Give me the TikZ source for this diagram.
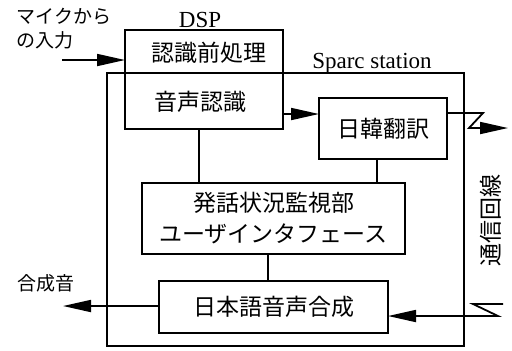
\documentclass[tikz,border=0pt]{standalone}
\usepackage{fontspec}
\setmainfont{Liberation Serif}
\newfontfamily\jp{Noto Sans CJK JP}
\usetikzlibrary{arrows.meta}
\begin{document}
\begin{tikzpicture}[x=0.5pt,y=-0.5pt,
  box/.style={draw, line width=0.9pt, inner sep=0pt, outer sep=0pt},
  ln/.style={line width=0.9pt},
  arr/.style={line width=0.9pt, -{Triangle[length=14pt,width=6pt]}},
  jt/.style={font=\jp\fontsize{11.5}{15.5}\selectfont, inner sep=0pt},
  js/.style={font=\jp\fontsize{9.5}{12}\selectfont, inner sep=0pt},
  lt/.style={font=\fontsize{11.5}{13}\selectfont, inner sep=0pt}]
\useasboundingbox (0,0) rectangle (512,350);
% frames
\node[box, minimum width=178.5pt, minimum height=136.5pt] (sparc) at (285.5,209.5) {};
\node[box, minimum width=79pt, minimum height=49.5pt] (dsp) at (204,79.5) {};
% texts in DSP
\node[jt] (pre) at (209,53) {認識前処理};
\node[jt] (asr) at (200,102) {音声認識};
% blocks
\node[box, jt, minimum width=64pt, minimum height=30.5pt] (tr) at (383,128.5) {日韓翻訳};
\node[box, jt, minimum width=131.5pt, minimum height=35.5pt, align=center] (mon) at (273.5,218.5) {発話状況監視部\\ユーザインタフェース};
\node[box, jt, minimum width=114.5pt, minimum height=26pt] (syn) at (273.5,307) {日本語音声合成};
% labels
\node[js, anchor=west] (mic1) at (16,16) {マイクから};
\node[js, anchor=west] (mic2) at (16,40) {の入力};
\node[lt] (dsplbl) at (200,20) {DSP};
\node[lt] (sparclbl) at (372,63) {Sparc station};
\node[jt, rotate=90] (comm) at (491,220) {通信回線};
\node[js] (outlbl) at (46,283) {合成音};
% helper coordinates
\coordinate (micin) at (62,60);
\coordinate (y114) at (0,114);
\coordinate (x199) at (199,0);
\coordinate (x377) at (377,0);
\coordinate (x268) at (268,0);
\coordinate (y306) at (0,306);
\coordinate (outend) at (63,306);
\coordinate (z1) at (483,113);
\coordinate (z2) at (469,128);
\coordinate (z3) at (508,128);
\coordinate (w0) at (503,304);
\coordinate (w1) at (473,304);
\coordinate (w2) at (498,316);
% connectors
\draw[arr] (micin) -- (micin -| dsp.west);
\draw[arr] (dsp.east |- y114) -- (tr.west |- y114);
\draw[arr] (tr.east |- z1) -- (z1) -- (z2) -- (z3);
\draw[ln] (dsp.south -| x199) -- (mon.north -| x199);
\draw[ln] (tr.south -| x377) -- (mon.north -| x377);
\draw[ln] (mon.south -| x268) -- (syn.north -| x268);
\draw[arr] (syn.west |- y306) -- (outend);
\draw[arr] (w0) -- (w1) -- (w2) -- (w2 -| syn.east);
\end{tikzpicture}
\end{document}
